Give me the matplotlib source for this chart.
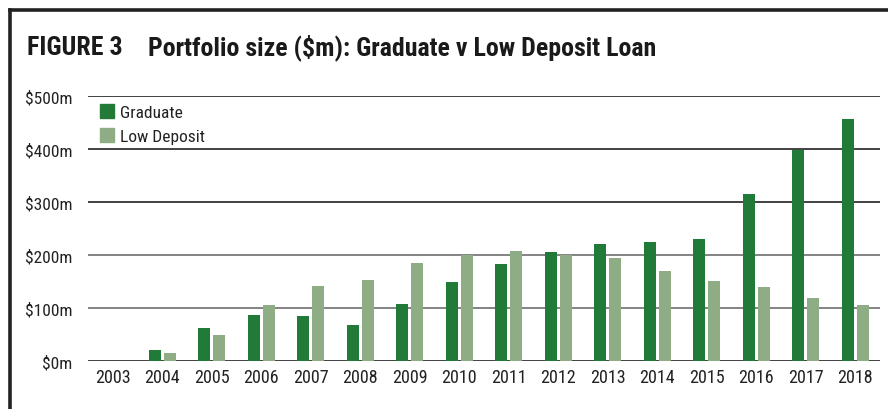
import matplotlib
matplotlib.use("Agg")
import matplotlib.pyplot as plt
import numpy as np
from matplotlib.patches import Patch

years = ["2003", "2004", "2005", "2006", "2007", "2008", "2009", "2010",
         "2011", "2012", "2013", "2014", "2015", "2016", "2017", "2018"]
graduate = [0, 21, 63, 87, 85, 68, 108, 149, 184, 206, 221, 225, 230, 315, 399, 457]
low_deposit = [0, 16, 50, 106, 142, 153, 185, 200, 208, 200, 195, 171, 151, 140, 119, 106]
yticks = [0, 100, 200, 300, 400, 500]
ytick_labels = ["$0m", "$100m", "$200m", "$300m", "$400m", "$500m"]

title_fig = "FIGURE 3"
title_text = "Portfolio size ($m): Graduate v Low Deposit Loan"

C_GRAD = "#227a38"
C_LOW = "#8fad84"

narrow = ["Roboto Condensed", "DejaVu Sans"]

fig = plt.figure(figsize=(8.88, 4.10), dpi=100)
ax = fig.add_axes([88/888, 1 - 362.3/410, (880-88)/888, (362.3-97)/410])

x = np.arange(len(years))
w = 0.245
off = 0.153
ax.bar(x - off, graduate, width=w, color=C_GRAD, zorder=3)
ax.bar(x + off, low_deposit, width=w, color=C_LOW, zorder=3)

grid_colors = {0: "#333333", 100: "#7a7a7a", 200: "#7a7a7a",
               300: "#333333", 400: "#333333", 500: "#333333"}
for t in yticks:
    ax.axhline(t, color=grid_colors[t], lw=1.3, zorder=2)

ax.set_xlim(-0.5, len(years) - 0.5)
ax.set_ylim(0, 500)
ax.set_yticks(yticks)
ax.set_yticklabels(ytick_labels, family=narrow, fontsize=12.5, color="#222222")
ax.set_xticks(x)
ax.set_xticklabels(years, family=narrow, fontsize=13, color="#222222")
ax.tick_params(axis="both", length=0)
ax.tick_params(axis="y", pad=11)
ax.tick_params(axis="x", pad=5)
for s in ax.spines.values():
    s.set_visible(False)

handles = [Patch(color=C_GRAD, label="Graduate"), Patch(color=C_LOW, label="Low Deposit")]
leg = ax.legend(handles=handles, loc="upper left", bbox_to_anchor=(0.006, 0.995),
                frameon=False, prop={"family": narrow, "size": 12.5},
                handlelength=0.85, handleheight=0.85, handletextpad=0.3,
                labelspacing=0.45, borderaxespad=0.0)
for t in leg.get_texts():
    t.set_color("#222222")

fig.text(27/888, 1 - 48/410, title_fig, family=narrow, fontweight="bold",
         fontsize=18.6, color="#1a1a1a", va="center", ha="left")
fig.text(148/888, 1 - 48/410, title_text, family=narrow, fontweight="bold",
         fontsize=18.6, color="#1a1a1a", va="center", ha="left")

# frame lines
fig.add_artist(plt.Line2D([9.5/888, 1.0], [1 - 10.5/410, 1 - 10.5/410],
                          transform=fig.transFigure, color="#222222", lw=2.6))
fig.add_artist(plt.Line2D([9.5/888, 9.5/888], [0, 1 - 10.5/410],
                          transform=fig.transFigure, color="#222222", lw=2.6))

fig.savefig("out.png", dpi=100)
